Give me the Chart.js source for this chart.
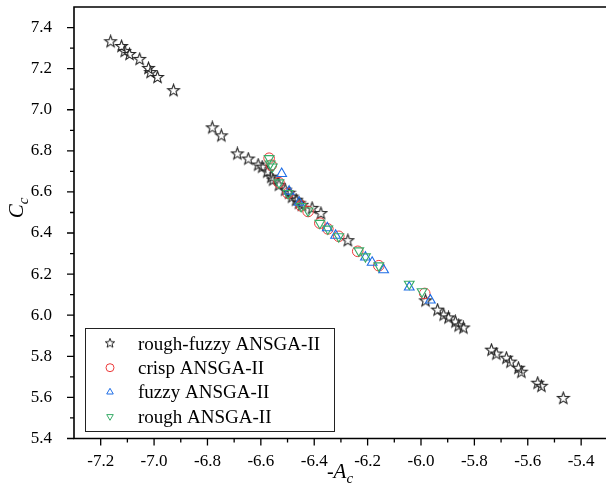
<!DOCTYPE html>
<html>
<head>
<meta charset="utf-8">
<script src="https://cdn.jsdelivr.net/npm/chart.js@4/dist/chart.umd.min.js"></script>
<style>
    html, body { margin: 0; padding: 0; background: #fff; overflow: hidden; }
    #wrap { position: absolute; left: 0; top: 0; width: 606px; height: 498px; }
</style>
</head>
<body>
<div id="wrap"><canvas id="chart" width="606" height="498"></canvas></div>
<script>
// ----------------------------------------------------
// DATA
// ----------------------------------------------------
const seriesNames = ['rough-fuzzy ANSGA-II', 'crisp ANSGA-II', 'fuzzy ANSGA-II', 'rough ANSGA-II'];

const roughFuzzyX = [-7.163, -7.122, -7.110, -7.092, -7.054, -7.021, -7.013, -6.987, -6.927, -6.782,
    -6.748, -6.688, -6.647, -6.610, -6.595, -6.576, -6.561, -6.554, -6.532, -6.509,
    -6.494, -6.483, -6.468, -6.457, -6.446, -6.408, -6.375, -6.274, -5.983, -5.938,
    -5.915, -5.897, -5.871, -5.859, -5.841, -5.736, -5.718, -5.680, -5.665, -5.635,
    -5.624, -5.563, -5.549, -5.467];
const roughFuzzyY = [7.331, 7.308, 7.284, 7.269, 7.245, 7.201, 7.181, 7.157, 7.093, 6.912,
    6.873, 6.785, 6.760, 6.731, 6.721, 6.697, 6.672, 6.658, 6.633, 6.609,
    6.594, 6.575, 6.560, 6.545, 6.535, 6.520, 6.495, 6.363, 6.070, 6.025,
    6.001, 5.987, 5.967, 5.948, 5.938, 5.830, 5.811, 5.791, 5.772, 5.742,
    5.723, 5.669, 5.654, 5.595];

const crispX = [-6.569, -6.561, -6.532, -6.498, -6.449, -6.423, -6.379, -6.349, -6.308, -6.237, -6.158, -5.986];
const crispY = [6.764, 6.730, 6.645, 6.593, 6.532, 6.505, 6.448, 6.420, 6.384, 6.311, 6.241, 6.106];

const fuzzyX = [-6.522, -6.494, -6.457, -6.351, -6.320, -6.208, -6.183, -6.140, -6.044, -5.965];
const fuzzyY = [6.689, 6.603, 6.549, 6.425, 6.388, 6.282, 6.257, 6.220, 6.136, 6.073];

const roughX = [-6.569, -6.565, -6.557, -6.532, -6.498, -6.449, -6.423, -6.379, -6.349, -6.308,
    -6.233, -6.208, -6.158, -6.044, -5.996];
const roughY = [6.763, 6.737, 6.722, 6.645, 6.593, 6.530, 6.508, 6.448, 6.420, 6.383,
    6.314, 6.285, 6.241, 6.152, 6.115];

const xTicks = [-7.2, -7.0, -6.8, -6.6, -6.4, -6.2, -6.0, -5.8, -5.6, -5.4];
const xMinorTicks = [-7.1, -6.9, -6.7, -6.5, -6.3, -6.1, -5.9, -5.7, -5.5];
const yTicks = [5.4, 5.6, 5.8, 6.0, 6.2, 6.4, 6.6, 6.8, 7.0, 7.2, 7.4];
const yMinorTicks = [5.5, 5.7, 5.9, 6.1, 6.3, 6.5, 6.7, 6.9, 7.1, 7.3];

// ----------------------------------------------------
// STYLE
// ----------------------------------------------------
const serif = "'Liberation Serif', 'Times New Roman', serif";
const starColor = '#262626';
const crispColor = '#ec3a3a';
const fuzzyColor = '#1f6ee6';
const roughColor = '#38ac68';

// hollow five point star as a point image
function makeStar(size, outer, inner, lw) {
    const c = document.createElement('canvas');
    c.width = size; c.height = size;
    const g = c.getContext('2d');
    g.strokeStyle = starColor;
    g.lineWidth = lw;
    g.beginPath();
    for (let i = 0; i < 10; i++) {
        const r = i % 2 === 0 ? outer : inner;
        const a = -Math.PI / 2 + i * Math.PI / 5;
        const px = size / 2 + r * Math.cos(a);
        const py = size / 2 + r * Math.sin(a);
        if (i === 0) g.moveTo(px, py); else g.lineTo(px, py);
    }
    g.closePath();
    g.stroke();
    return c;
}
const starImg = makeStar(15, 6.2, 2.6, 1.1);
const starLegendImg = makeStar(12, 5, 2.1, 1);

const toPoints = (xs, ys) => xs.map((x, i) => ({ x: x, y: ys[i] }));

// ----------------------------------------------------
// PLUGINS: frame + tick marks, axis titles, legend
// ----------------------------------------------------
const frameAndTicks = {
    id: 'frameAndTicks',
    afterDraw(chart) {
        const { ctx, chartArea: a, scales: { x, y } } = chart;
        ctx.save();
        ctx.strokeStyle = '#000';
        ctx.lineWidth = 1.6;
        // right side of the frame lies outside the picture
        ctx.beginPath();
        ctx.moveTo(chart.width, a.top);
        ctx.lineTo(a.left, a.top);
        ctx.lineTo(a.left, a.bottom);
        ctx.lineTo(chart.width, a.bottom);
        ctx.stroke();
        ctx.lineWidth = 1.3;
        ctx.beginPath();
        xTicks.forEach(v => { const p = x.getPixelForValue(v); ctx.moveTo(p, a.bottom); ctx.lineTo(p, a.bottom + 7); });
        xMinorTicks.forEach(v => { const p = x.getPixelForValue(v); ctx.moveTo(p, a.bottom); ctx.lineTo(p, a.bottom + 4); });
        yTicks.forEach(v => { const p = y.getPixelForValue(v); ctx.moveTo(a.left, p); ctx.lineTo(a.left - 7, p); });
        yMinorTicks.forEach(v => { const p = y.getPixelForValue(v); ctx.moveTo(a.left, p); ctx.lineTo(a.left - 4, p); });
        ctx.stroke();
        ctx.restore();
    }
};

// main letter italic, subscript smaller
function drawSubTitle(ctx, prefix, main, sub, cx, baseY) {
    ctx.font = '20px ' + serif;
    const w1 = ctx.measureText(prefix).width;
    ctx.font = 'italic 21px ' + serif;
    const w2 = ctx.measureText(main).width;
    ctx.font = 'italic 15px ' + serif;
    const w3 = ctx.measureText(sub).width;
    let x0 = cx - (w1 + w2 + w3) / 2;
    ctx.textAlign = 'left';
    ctx.textBaseline = 'alphabetic';
    ctx.fillStyle = '#000';
    ctx.font = '20px ' + serif;
    ctx.fillText(prefix, x0, baseY);
    ctx.font = 'italic 21px ' + serif;
    ctx.fillText(main, x0 + w1, baseY);
    ctx.font = 'italic 15px ' + serif;
    ctx.fillText(sub, x0 + w1 + w2, baseY + 5);
}

const axisTitles = {
    id: 'axisTitles',
    afterDraw(chart) {
        const { ctx } = chart;
        ctx.save();
        drawSubTitle(ctx, '-', 'A', 'c', 340, 478);
        ctx.translate(23, 208);
        ctx.rotate(-Math.PI / 2);
        drawSubTitle(ctx, '', 'C', 'c', 0, 0);
        ctx.restore();
    }
};

const boxLegend = {
    id: 'boxLegend',
    afterDraw(chart) {
        const ctx = chart.ctx;
        ctx.save();
        ctx.strokeStyle = '#222';
        ctx.lineWidth = 1;
        ctx.strokeRect(85.5, 328.5, 249, 103);
        const styles = [
            { pointStyle: starLegendImg, radius: 5, rotation: 0, color: starColor },
            { pointStyle: 'circle', radius: 4, rotation: 0, color: crispColor },
            { pointStyle: 'triangle', radius: 3.8, rotation: 0, color: fuzzyColor },
            { pointStyle: 'triangle', radius: 3.8, rotation: 180, color: roughColor }
        ];
        ctx.font = '19px ' + serif;
        ctx.textAlign = 'left';
        ctx.textBaseline = 'alphabetic';
        seriesNames.forEach((name, i) => {
            const cy = 343.3 + i * 24.4;
            const s = styles[i];
            ctx.strokeStyle = s.color;
            ctx.fillStyle = 'rgba(0,0,0,0)';
            ctx.lineWidth = 1;
            Chart.helpers.drawPoint(ctx, { pointStyle: s.pointStyle, radius: s.radius, rotation: s.rotation, borderWidth: 1 }, 110, cy);
            ctx.fillStyle = '#000';
            ctx.fillText(name, 138, cy + 6.3);
        });
        ctx.restore();
    }
};

// ----------------------------------------------------
// CHART
// ----------------------------------------------------
const ctx = document.getElementById('chart').getContext('2d');
new Chart(ctx, {
    type: 'scatter',
    data: {
        datasets: [
            {
                label: seriesNames[0], data: toPoints(roughFuzzyX, roughFuzzyY),
                pointStyle: starImg, order: 4
            },
            {
                label: seriesNames[1], data: toPoints(crispX, crispY),
                pointStyle: 'circle', pointRadius: 5.3, borderColor: crispColor,
                backgroundColor: 'rgba(0,0,0,0)', borderWidth: 1, order: 3
            },
            {
                label: seriesNames[2], data: toPoints(fuzzyX, fuzzyY),
                pointStyle: 'triangle', pointRadius: 5.6, borderColor: fuzzyColor,
                backgroundColor: 'rgba(0,0,0,0)', borderWidth: 1.1, order: 2
            },
            {
                label: seriesNames[3], data: toPoints(roughX, roughY),
                pointStyle: 'triangle', rotation: 180, pointRadius: 5.6, borderColor: roughColor,
                backgroundColor: 'rgba(0,0,0,0)', borderWidth: 1.1, order: 1
            }
        ]
    },
    options: {
        responsive: false,
        animation: false,
        layout: { padding: { top: 7, right: 0, left: 0, bottom: 0 } },
        plugins: { legend: { display: false }, tooltip: { enabled: false } },
        scales: {
            x: {
                // plot area stops ~5px short of the right edge; range chosen so the scale matches the picture
                type: 'linear', min: -7.3, max: -5.332,
                grid: { display: false, drawTicks: false },
                border: { display: false },
                afterBuildTicks: s => { s.ticks = xTicks.map(v => ({ value: v })); },
                afterFit: s => { s.height = 59.5; s.paddingLeft = 0; s.paddingRight = 0; },
                ticks: {
                    padding: 13, color: '#000',
                    font: { family: serif, size: 17 },
                    callback: v => v.toFixed(1)
                }
            },
            y: {
                type: 'linear', min: 5.4, max: 7.5,
                grid: { display: false, drawTicks: false },
                border: { display: false },
                afterBuildTicks: s => { s.ticks = yTicks.map(v => ({ value: v })); },
                afterFit: s => { s.width = 74; s.paddingTop = 0; s.paddingBottom = 0; },
                ticks: {
                    padding: 22, color: '#000',
                    font: { family: serif, size: 17 },
                    callback: v => v.toFixed(1)
                }
            }
        }
    },
    plugins: [frameAndTicks, axisTitles, boxLegend]
});
</script>
</body>
</html>
